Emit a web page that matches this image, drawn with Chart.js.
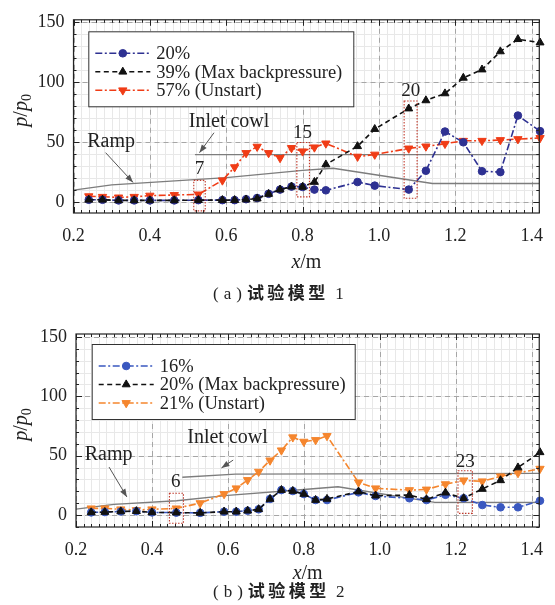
<!DOCTYPE html>
<html><head><meta charset="utf-8">
<script src="https://cdn.jsdelivr.net/npm/chart.js@4.4.1/dist/chart.umd.min.js"></script>
<style>
html,body{margin:0;padding:0;background:#fff;width:555px;height:605px;overflow:hidden;position:relative;}
#c1{position:absolute;left:0;top:0;}
#c2{position:absolute;left:0;top:300px;}
.cap{position:absolute;color:#222;white-space:nowrap;line-height:18px;}
.s{font-family:'Liberation Serif',serif;font-size:17px;letter-spacing:5px;}
.h{font-family:'Noto Sans CJK SC',sans-serif;font-size:17px;font-weight:bold;letter-spacing:3.5px;}
.n{font-family:'Liberation Serif',serif;font-size:17px;letter-spacing:2px;}
</style></head><body>
<canvas id="c1" width="555" height="300"></canvas>
<canvas id="c2" width="555" height="305"></canvas>
<div class="cap" style="left:213px;top:283px"><span class="s">(a)</span><span class="h">试验模型</span><span class="n">&nbsp;1</span></div>
<div class="cap" style="left:213px;top:581px"><span class="s">(b)</span><span class="h">试验模型</span><span class="n">&nbsp;2</span></div>
<script>
// ---------- data ----------
const xTaps = [0.240,0.276,0.318,0.359,0.400,0.464,0.527,0.590,0.622,0.652,0.681,0.711,0.741,0.771,0.800,0.831,0.861,0.944,0.989,1.078,1.123,1.173,1.221,1.270,1.318,1.364,1.422];

const top20 = [2,2,1.5,1.5,1.5,1.5,1.7,1.7,1.7,2.5,3.5,7,10.5,13,12.7,10.5,9.9,16.8,13.8,10.5,26.2,58.9,49.9,25.8,25.1,72.2,59.2];
const top39 = [2,2,1.5,1.5,1.5,1.5,1.7,1.7,1.7,2.2,3,6.8,10.5,13,12.7,16.8,31.4,46.6,60.9,78,84.8,90.6,103.6,110.5,125.6,135.8,133];
const top57 = [5,4.5,4,4.5,5.5,6,6.5,18.2,29.2,41,46.3,41,36.9,45.2,42.4,45.7,49,38,39.7,44.8,46.5,48.7,51.2,51.2,51.8,52.6,53.5];

const bot16 = [2.2,2.5,3,3.2,2.2,2,1.8,2.8,2.8,3.6,4.8,13.5,21,20.2,17.7,12.6,12.6,19.1,16,14.1,12.6,17,14.1,8.4,6.5,6.5,12];
const bot20 = [2.2,2.5,3,3.2,2.2,2,1.8,2.8,2.8,3.6,4.8,13.5,21,20.2,17.7,12.6,13.5,19.7,16.3,16.8,13.2,18.8,14.1,21.9,29.2,40,52.8];
const bot21 = [5.6,5.6,4.8,4.2,4.8,5.6,10,17.7,22.5,29.5,36.5,46,54.5,65.5,61.8,63.2,66.6,27.5,22.5,21,21.5,26,29.2,28.4,32.6,35.4,39];

const rampX1 = [0.2,0.3,0.6,0.8,0.88,1.14,1.42];
const rampY1 = [10,14.5,20.5,26.5,28.3,15.6,15.6];
const cowlX1 = [0.518,1.42];
const cowlY1 = [39.6,39.6];
const rampX2 = [0.2,0.3,0.465,0.6,0.8,0.89,1.145,1.42];
const rampY2 = [5,9,12,16.5,21.5,23.8,10.7,10.7];
const cowlX2 = [0.48,0.62,1.42];
const cowlY2 = [31.8,34.5,35];

const xTickVals = [0.2,0.4,0.6,0.8,1.0,1.2,1.4];
const yTickVals = [0,50,100,150];
const legend1 = ['20%','39% (Max backpressure)','57% (Unstart)'];
const legend2 = ['16%','20% (Max backpressure)','21% (Unstart)'];

// ---------- helpers ----------
const SERIF = "'Liberation Serif','Times New Roman',serif";
function pts(xs, ys){ return xs.map((x,i)=>({x:x, y:ys[i]})); }
function series(label, ys, color, style, dash, rot, r, order){
  return {label:label, data:pts(xTaps, ys), borderColor:color, backgroundColor:color,
    borderWidth:1.6, borderDash:dash, pointStyle:style, rotation:rot, pointRadius:r,
    pointBorderWidth:1, pointBackgroundColor:color, pointBorderColor:color,
    tension:0, showLine:true, clip:false, order:order};
}
function outline(xs, ys){
  return {label:'', data:pts(xs,ys), borderColor:'#7d7d7d', borderWidth:1.3, pointRadius:0,
    showLine:true, tension:0, order:9};
}

function decor(o){
  return {
    id:'decor',
    beforeDatasetsDraw(chart){
      const {ctx, chartArea:a, scales:{x,y}} = chart;
      ctx.save();
      ctx.beginPath(); ctx.rect(a.left,a.top,a.width,a.height); ctx.clip();
      ctx.lineWidth = 1;
      const L=(x1,y1,x2,y2)=>{ctx.beginPath();ctx.moveTo(x1,y1);ctx.lineTo(x2,y2);ctx.stroke();};
      ctx.strokeStyle='#e8e8e8'; ctx.setLineDash([]);
      for(let i=0;;i++){const v=0.2+i*0.02; if(v>x.max+1e-9)break; const p=Math.round(x.getPixelForValue(v))+0.5; L(p,a.top,p,a.bottom);}
      for(let i=-2;;i++){const v=i*10; if(v>y.max)break; if(v<y.min)continue; const p=Math.round(y.getPixelForValue(v))+0.5; L(a.left,p,a.right,p);}
      ctx.strokeStyle='#a6a6a6'; ctx.setLineDash([5,4]);
      xTickVals.forEach(v=>{const p=Math.round(x.getPixelForValue(v))+0.5; L(p,a.top,p,a.bottom);});
      yTickVals.forEach(v=>{const p=Math.round(y.getPixelForValue(v))+0.5; L(a.left,p,a.right,p);});
      ctx.restore();
    },
    afterDraw(chart){
      const {ctx, chartArea:a, scales:{x,y}} = chart;
      const L=(x1,y1,x2,y2)=>{ctx.beginPath();ctx.moveTo(x1,y1);ctx.lineTo(x2,y2);ctx.stroke();};
      ctx.save();
      ctx.strokeStyle='#222'; ctx.lineWidth=1.2; ctx.setLineDash([]);
      ctx.strokeRect(a.left,a.top,a.width,a.height);
      ctx.lineWidth=1;
      for(let i=0;;i++){const v=0.2+i*0.02; if(v>x.max+1e-9)break; const p=Math.round(x.getPixelForValue(v))+0.5;
        const maj=Math.abs(v/0.2-Math.round(v/0.2))<1e-6; const len=maj?6:3;
        L(p,a.bottom,p,a.bottom-len); L(p,a.top,p,a.top+len);}
      for(let i=-2;;i++){const v=i*10; if(v>y.max)break; if(v<y.min)continue; const p=Math.round(y.getPixelForValue(v))+0.5;
        const len=(v%50===0)?6:3; L(a.left,p,a.left+len,p); L(a.right,p,a.right-len,p);}
      ctx.fillStyle='#222'; ctx.font='20px '+SERIF; ctx.textBaseline='middle'; ctx.textAlign='left';
      o.texts.forEach(t=>ctx.fillText(t.t, x.getPixelForValue(t.x), y.getPixelForValue(t.y)));
      ctx.strokeStyle='#555'; ctx.fillStyle='#555'; ctx.lineWidth=1;
      o.arrows.forEach(r=>{
        const x1=x.getPixelForValue(r.f[0]), y1=y.getPixelForValue(r.f[1]);
        const x2=x.getPixelForValue(r.t[0]), y2=y.getPixelForValue(r.t[1]);
        L(x1,y1,x2,y2);
        const ang=Math.atan2(y2-y1,x2-x1), hl=8, hw=3;
        ctx.beginPath(); ctx.moveTo(x2,y2);
        ctx.lineTo(x2-hl*Math.cos(ang)+hw*Math.sin(ang), y2-hl*Math.sin(ang)-hw*Math.cos(ang));
        ctx.lineTo(x2-hl*Math.cos(ang)-hw*Math.sin(ang), y2-hl*Math.sin(ang)+hw*Math.cos(ang));
        ctx.closePath(); ctx.fill();
      });
      o.boxes.forEach(b=>{
        const x0=x.getPixelForValue(b.x0), x1=x.getPixelForValue(b.x1);
        const y0=y.getPixelForValue(b.y0), y1=y.getPixelForValue(b.y1);
        ctx.strokeStyle='#c0392b'; ctx.lineWidth=1.1; ctx.setLineDash([1.5,1.5]);
        ctx.strokeRect(x0,y1,x1-x0,y0-y1);
        ctx.setLineDash([]);
        ctx.fillStyle='#222'; ctx.font='19px '+SERIF; ctx.textAlign='center'; ctx.textBaseline='middle';
        ctx.fillText(b.label, x.getPixelForValue(b.lx), y.getPixelForValue(b.ly));
      });
      const bx=a.left+o.lg.dx, by=a.top+o.lg.dy;
      ctx.fillStyle='#fff'; ctx.fillRect(bx,by,o.lg.w,o.lg.h);
      ctx.strokeStyle='#333'; ctx.lineWidth=1; ctx.setLineDash([]);
      ctx.strokeRect(bx+0.5,by+0.5,o.lg.w,o.lg.h);
      const rows=[22,40.5,59];
      o.lg.items.forEach((lab,i)=>{
        const ds=chart.data.datasets[o.lg.idx[i]];
        const yy=by+rows[i];
        ctx.strokeStyle=ds.borderColor; ctx.lineWidth=ds.borderWidth; ctx.setLineDash(ds.borderDash||[]);
        L(bx+7,yy,bx+62,yy);
        ctx.setLineDash([]);
        ctx.fillStyle=ds.pointBackgroundColor; ctx.strokeStyle=ds.pointBorderColor; ctx.lineWidth=1;
        Chart.helpers.drawPoint(ctx,{pointStyle:ds.pointStyle, rotation:ds.rotation||0, radius:ds.pointRadius, borderWidth:1}, bx+34.5, yy);
        ctx.fillStyle='#222'; ctx.font='18.5px '+SERIF; ctx.textAlign='left'; ctx.textBaseline='middle';
        ctx.fillText(lab, bx+68, yy+1);
      });
      ctx.fillStyle='#222'; ctx.textBaseline='alphabetic';
      const it='italic 20px '+SERIF, nf='20px '+SERIF, sf='14px '+SERIF;
      ctx.font=it; const wx=ctx.measureText('x').width; ctx.font=nf; const wm=ctx.measureText('/m').width;
      let sx=(a.left+a.right)/2-(wx+wm)/2, sy=a.bottom+o.xTitleDy;
      ctx.textAlign='left'; ctx.font=it; ctx.fillText('x',sx,sy); ctx.font=nf; ctx.fillText('/m',sx+wx,sy);
      ctx.save();
      ctx.translate(o.yTitleX,(a.top+a.bottom)/2-6); ctx.rotate(-Math.PI/2);
      ctx.font=it; const wp=ctx.measureText('p').width; ctx.font=nf; const ws=ctx.measureText('/').width;
      ctx.font=sf; const w0=ctx.measureText('0').width;
      const tot=wp*2+ws+w0; let cx=-tot/2;
      ctx.font=it; ctx.fillText('p',cx,6); cx+=wp;
      ctx.font=nf; ctx.fillText('/',cx,6); cx+=ws;
      ctx.font=it; ctx.fillText('p',cx,6); cx+=wp;
      ctx.font=sf; ctx.fillText('0',cx,10);
      ctx.restore();
      ctx.restore();
    }
  };
}

function makeChart(id, datasets, pad, yMin, yMax, xh, o){
  return new Chart(document.getElementById(id), {
    type:'line',
    data:{datasets:datasets},
    options:{
      responsive:false, animation:false, devicePixelRatio:1,
      layout:{padding:pad},
      plugins:{legend:{display:false}, tooltip:{enabled:false}},
      scales:{
        x:{type:'linear', min:0.2, max:1.42,
           afterBuildTicks:s=>{s.ticks=xTickVals.map(v=>({value:v}));},
           afterFit:s=>{s.height=xh;},
           grid:{display:false, drawTicks:false}, border:{display:false},
           ticks:{padding:12, color:'#222', font:{family:SERIF, size:18}, maxRotation:0, autoSkip:false,
             callback:v=>Number(v).toFixed(1)}},
        y:{type:'linear', min:yMin, max:yMax,
           afterBuildTicks:s=>{s.ticks=yTickVals.map(v=>({value:v}));},
           afterFit:s=>{s.width=o.yw;},
           grid:{display:false, drawTicks:false}, border:{display:false},
           ticks:{padding:9, color:'#222', font:{family:SERIF, size:18}, callback:v=>String(v)}}
      }
    },
    plugins:[decor(o)]
  });
}

makeChart('c1', [
  series(legend1[0], top20, '#2e3192', 'circle', [7,2.5,2,2.5], 0, 3.8, 1),
  series(legend1[1], top39, '#111111', 'triangle', [5,3.5], 0, 4.6, 0),
  series(legend1[2], top57, '#f03c16', 'triangle', [7,2.5,2,2.5], 180, 4.8, 2),
  outline(rampX1, rampY1), outline(cowlX1, cowlY1)
], {left:0, right:5, top:18.5, bottom:0}, -9, 152, 87, {
  yw:73.5, xTitleDy:55, yTitleX:21,
  texts:[{t:'Ramp', x:0.236, y:50.4}, {t:'Inlet cowl', x:0.502, y:67}],
  arrows:[{f:[0.284,41.3], t:[0.356,16.5]}, {f:[0.568,57.9], t:[0.53,41.3]}],
  boxes:[{x0:0.515,x1:0.545,y0:-7.2,y1:18.2,label:'7',lx:0.53,ly:28},
         {x0:0.785,x1:0.818,y0:4.4,y1:49.8,label:'15',lx:0.80,ly:57.8},
         {x0:1.066,x1:1.100,y0:3.3,y1:84.3,label:'20',lx:1.083,ly:92.6}],
  lg:{dx:14.8, dy:11.5, w:265, h:75, items:legend1, idx:[0,1,2]}
});

makeChart('c2', [
  series(legend2[0], bot16, '#3a58c0', 'circle', [7,2.5,2,2.5], 0, 3.8, 1),
  series(legend2[1], bot20, '#111111', 'triangle', [5,3.5], 0, 4.6, 0),
  series(legend2[2], bot21, '#f5862e', 'triangle', [7,2.5,2,2.5], 180, 4.8, 2),
  outline(rampX2, rampY2), outline(cowlX2, cowlY2)
], {left:0, right:4.3, top:34, bottom:0}, -10.1, 152.5, 78, {
  yw:76, xTitleDy:52, yTitleX:21,
  texts:[{t:'Ramp', x:0.223, y:50.5}, {t:'Inlet cowl', x:0.493, y:64.9}],
  arrows:[{f:[0.287,40.4], t:[0.334,15.2]}, {f:[0.614,46.3], t:[0.583,39.6]}],
  boxes:[{x0:0.446,x1:0.483,y0:-7,y1:18.3,label:'6',lx:0.463,ly:28},
         {x0:1.206,x1:1.244,y0:1.4,y1:37.3,label:'23',lx:1.225,ly:44.9}],
  lg:{dx:15.7, dy:10, w:263, h:75, items:legend2, idx:[0,1,2]}
});
</script>
</body></html>
